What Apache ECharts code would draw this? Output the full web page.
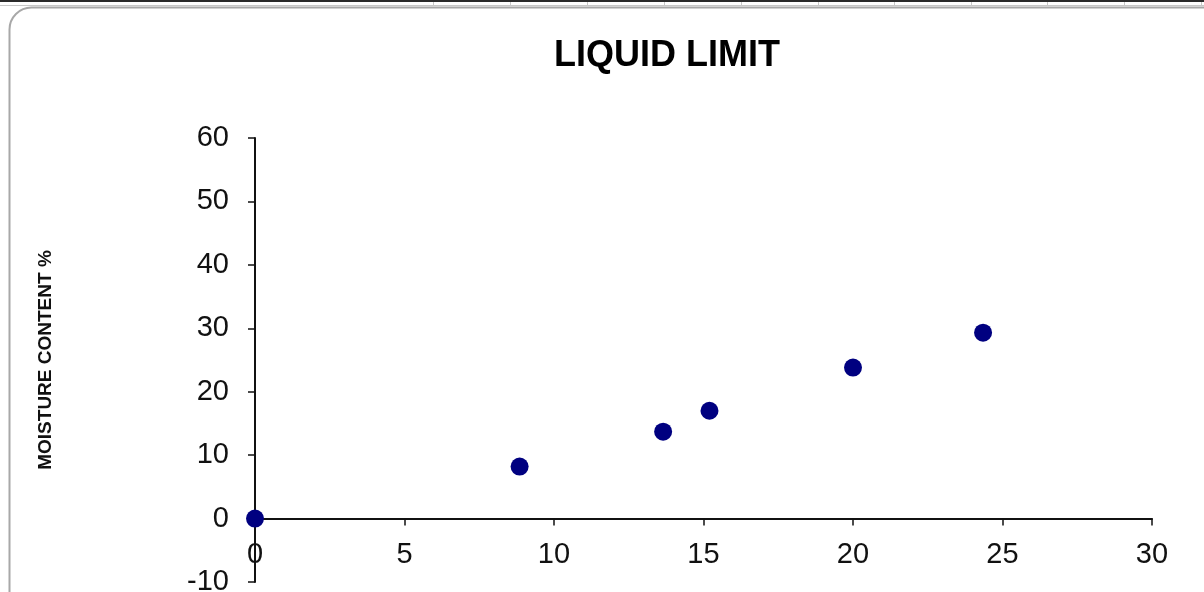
<!DOCTYPE html>
<html>
<head>
<meta charset="utf-8">
<script src="https://cdn.jsdelivr.net/npm/echarts@6/dist/echarts.min.js"></script>
<style>
html,body{margin:0;padding:0;background:#fff;}
#c{width:1204px;height:592px;}
</style>
</head>
<body>
<div id="c"></div>
<script>
// Data
var titleText = 'LIQUID LIMIT';
var yAxisName = 'MOISTURE CONTENT %';
var blowsX = [0, 8.85, 13.65, 15.2, 20.0, 24.35];
var moistureY = [0, 8.2, 13.7, 17.0, 23.8, 29.3];
var xTicks = {min: 0, max: 30, interval: 5};
var yTicks = {min: -10, max: 60, interval: 10};

var points = blowsX.map(function (x, i) { return [x, moistureY[i]]; });

var chart = echarts.init(document.getElementById('c'), null, {renderer: 'canvas'});

var graphics = [
  {type: 'rect', silent: true, z: -10, shape: {x: 0, y: 0, width: 1204, height: 2}, style: {fill: '#2b2b2b'}},
  {type: 'line', silent: true, z: -10, shape: {x1: 0, y1: 5.5, x2: 1204, y2: 5.5}, style: {stroke: '#c8c8c8', lineWidth: 1}},
  {type: 'rect', silent: true, z: -9, shape: {x: 9.5, y: 7.5, width: 1400, height: 900, r: 22}, style: {fill: 'none', stroke: '#a8a8a8', lineWidth: 2}}
];
var seps = [433, 510, 587, 664, 741, 818, 894, 971, 1047, 1124, 1201];
seps.forEach(function (sx) {
  graphics.push({type: 'line', silent: true, z: -10, shape: {x1: sx + 0.5, y1: 2, x2: sx + 0.5, y2: 6}, style: {stroke: '#c8c8c8', lineWidth: 1}});
});

var fontFam = 'Liberation Sans, Arial, sans-serif';

chart.setOption({
  backgroundColor: '#ffffff',
  animation: false,
  title: {
    text: titleText,
    left: 549,
    top: 33,
    textStyle: {fontFamily: fontFam, fontWeight: 'bold', fontSize: 36, color: '#000'}
  },
  grid: {left: 255, right: 52, top: 138, bottom: 10, containLabel: false, outerBoundsMode: 'none'},
  xAxis: {
    type: 'value',
    min: xTicks.min, max: xTicks.max, interval: xTicks.interval,
    offset: 0,
    axisLine: {onZero: false, lineStyle: {color: '#111', width: 2}},
    axisTick: {show: true, inside: false, length: 7, lineStyle: {color: '#111', width: 1.5}},
    axisLabel: {margin: 22, fontFamily: fontFam, fontSize: 29, color: '#111'},
    splitLine: {show: false}
  },
  yAxis: {
    type: 'value',
    min: yTicks.min, max: yTicks.max, interval: yTicks.interval,
    name: yAxisName,
    nameLocation: 'middle',
    nameRotate: 90,
    nameGap: 200,
    nameTextStyle: {fontFamily: fontFam, fontWeight: 'bold', fontSize: 19, color: '#111'},
    axisLine: {onZero: false, lineStyle: {color: '#111', width: 2}},
    axisTick: {show: true, inside: false, length: 7, lineStyle: {color: '#111', width: 1.5}},
    axisLabel: {margin: 26, fontFamily: fontFam, fontSize: 29, color: '#111'},
    splitLine: {show: false}
  },
  graphic: graphics,
  series: [{
    type: 'scatter',
    data: points,
    symbol: 'circle',
    symbolSize: 18,
    itemStyle: {color: '#000080', opacity: 1},
    clip: false,
    z: 5
  }]
});

// Move the x axis (line, ticks and labels) up to y = 0, using the y axis scale
var zeroPx = chart.convertToPixel({yAxisIndex: 0}, 0);
var bottomPx = chart.convertToPixel({yAxisIndex: 0}, yTicks.min);
chart.setOption({xAxis: {offset: zeroPx - bottomPx}});
</script>
</body>
</html>
